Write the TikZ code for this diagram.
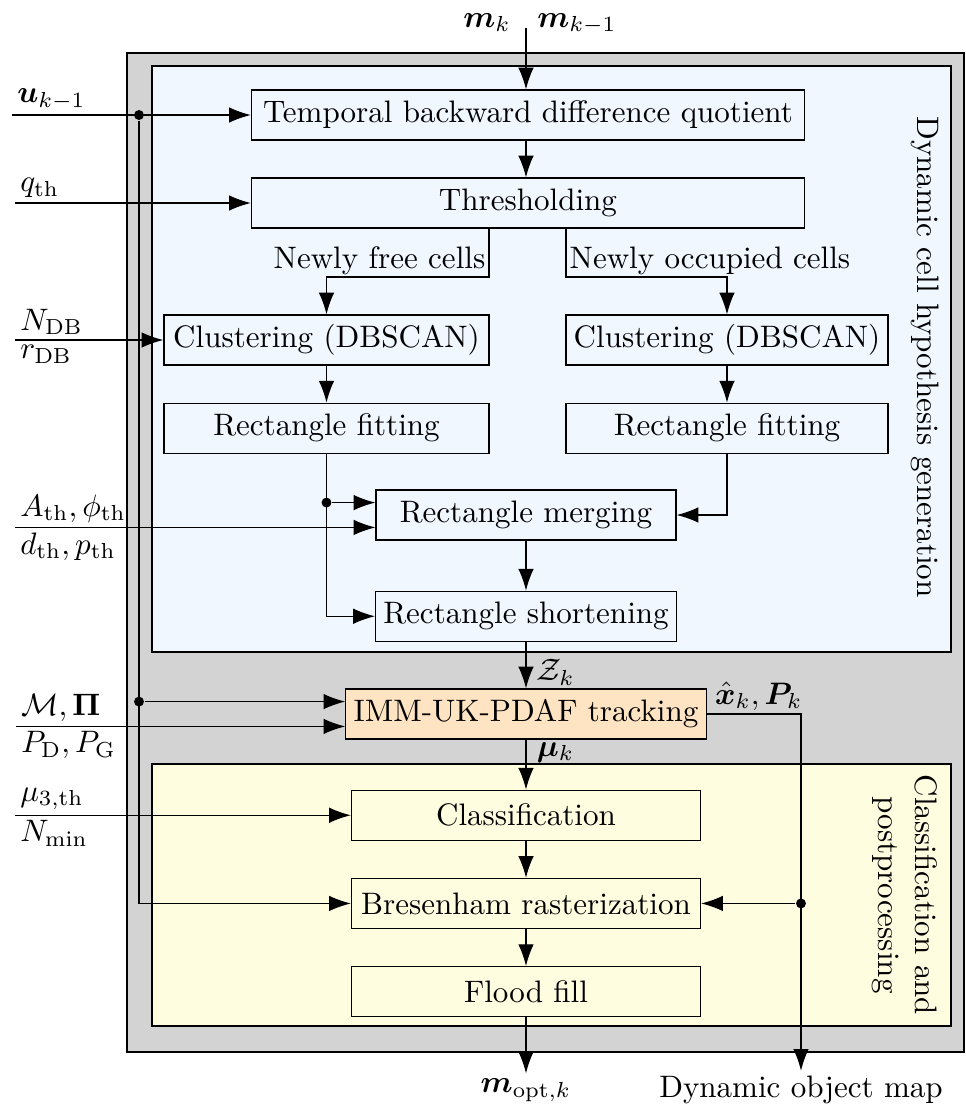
\documentclass[tikz,border=0pt]{standalone}
\usepackage{amsmath,bm}
\usetikzlibrary{arrows.meta,positioning}
\definecolor{groupgray}{RGB}{211,211,211}
\definecolor{hypblue}{RGB}{240,247,255}
\definecolor{clsyellow}{RGB}{255,253,224}
\definecolor{trackorange}{RGB}{255,228,196}

\begin{document}
\begin{tikzpicture}[x=0.322pt,y=-0.322pt,>={Latex[length=7pt,width=5pt]},
  block/.style={draw,rectangle,minimum height=16.1pt,inner xsep=2.5pt,inner ysep=2pt},
  hblock/.style={block,fill=hypblue},
  cblock/.style={block,fill=clsyellow},
  dot/.style={circle,fill,inner sep=0pt,minimum size=3.2pt},
  inlabel/.style={inner sep=1.5pt}]
\useasboundingbox (0,0) rectangle (965,1105);
\draw[fill=groupgray] (127,53) rectangle (964,1052);
\draw[fill=hypblue] (152,66) rectangle (951,652);
\draw[fill=clsyellow] (152,764) rectangle (951,1026);

\node[hblock,minimum width=178.1pt] (tbdq) at (528,115) {Temporal backward difference quotient};
\node[hblock,minimum width=178.1pt] (thr) at (528,203) {Thresholding};
\node[hblock,minimum width=104.7pt] (clu1) at (326.5,340) {Clustering (DBSCAN)};
\node[hblock,minimum width=104.7pt,below=11.9pt of clu1] (fit1) {Rectangle fitting};
\node[hblock,minimum width=103.7pt] (clu2) at (727,340) {Clustering (DBSCAN)};
\node[hblock,minimum width=103.7pt,below=11.9pt of clu2] (fit2) {Rectangle fitting};
\node[hblock,minimum width=96.6pt] (merge) at (526,515) {Rectangle merging};
\node[hblock,minimum width=96.6pt,below=16.1pt of merge] (short) {Rectangle shortening};
\node[block,fill=trackorange,minimum width=112.4pt] (imm) at (526,714) {IMM-UK-PDAF tracking};
\node[cblock,minimum width=112.4pt,below=16.1pt of imm] (cls) {Classification};
\node[cblock,minimum width=112.4pt,below=11.9pt of cls] (bres) {Bresenham rasterization};
\node[cblock,minimum width=112.4pt,below=11.9pt of bres] (flood) {Flood fill};

\node[rotate=-90] (hyplab) at (925,357) {Dynamic cell hypothesis generation};
\node[rotate=-90,align=center] (clslab) at (905,895) {Classification and\\postprocessing};

\coordinate (tin) at (526,28);
\node[anchor=base] (mk) at (487,27) {$\bm{m}_k$};
\node[anchor=base] (mkm) at (577,27) {$\bm{m}_{k-1}$};
\draw[->] (tin) -- (tin |- tbdq.north);
\draw[->] (tbdq.south -| tin) -- (thr.north -| tin);

\coordinate (fsplit) at (489,277);
\coordinate (osplit) at (566,277);
\draw[->] (thr.south -| fsplit) -- node[left,pos=0.67,inner sep=1pt] (freelab) {Newly free cells} (fsplit) -| (clu1);
\draw[->] (thr.south -| osplit) -- node[right,pos=0.67,inner sep=1pt] (occlab) {Newly occupied cells} (osplit) -| (clu2);
\draw[->] (clu1) -- (fit1);
\draw[->] (clu2) -- (fit2);

\path ([yshift=4pt]merge.west) coordinate (min1) ([yshift=-4pt]merge.west) coordinate (min2);
\draw[->] (fit1) |- (short);
\node[dot] (fdot) at (fit1 |- min1) {};
\draw[->] (fdot) -- (min1);
\draw[->] (fit2) |- (merge);
\draw[->] (merge) -- (short);
\draw[->] (short) -- node[right,pos=0.65] (zlab) {$\mathcal{Z}_k$} (imm);

\coordinate (uin) at (12,115);
\node[dot] (udot) at (139,115) {};
\draw[->] (uin) -- (tbdq);
\node[inlabel,anchor=south west] (ulab) at (uin) {$\bm{u}_{k-1}$};
\draw[->] (udot) |- (bres);
\path ([yshift=4pt]imm.west) coordinate (iin1) ([yshift=-4pt]imm.west) coordinate (iin2);
\node[dot] (idot) at (udot |- iin1) {};
\draw[->] (idot) -- (iin1);

\coordinate (qin) at (15,203);
\draw[->] (qin) -- (thr);
\node[inlabel,anchor=south west] (qlab) at (qin) {$q_{\mathrm{th}}$};

\coordinate (nin) at (15,340);
\draw[->] (nin) -- (clu1);
\node[inlabel,anchor=south west] (nlab) at (nin) {$N_{\mathrm{DB}}$};
\node[inlabel,anchor=north west] (rlab) at (nin) {$r_{\mathrm{DB}}$};

\coordinate (ain) at (15,0 |- min2);
\draw[->] (ain) -- (min2);
\node[inlabel,anchor=south west] (alab) at (ain) {$A_{\mathrm{th}},\phi_{\mathrm{th}}$};
\node[inlabel,anchor=north west] (dlab) at (ain) {$d_{\mathrm{th}},p_{\mathrm{th}}$};

\coordinate (pin) at (16,0 |- iin2);
\draw[->] (pin) -- (iin2);
\node[inlabel,anchor=south west] (mlab) at (pin) {$\mathcal{M},\mathbf{\Pi}$};
\node[inlabel,anchor=north west] (plab) at (pin) {$P_{\mathrm{D}},P_{\mathrm{G}}$};

\coordinate (muin) at (15,0 |- cls);
\draw[->] (muin) -- (cls);
\node[inlabel,anchor=south west] (mulab3) at (muin) {$\mu_{3,\mathrm{th}}$};
\node[inlabel,anchor=north west] (nminlab) at (muin) {$N_{\min}$};

\draw[->] (imm) -- node[right,pos=0.25] (mulab) {$\bm{\mu}_k$} (cls);
\draw[->] (cls) -- (bres);
\draw[->] (bres) -- (flood);

\node[inlabel] (mopt) at (flood |- 0,1090) {$\bm{m}_{\mathrm{opt},k}$};
\draw[->] (flood) -- (mopt);
\node[inlabel] (dom) at (801,1090) {Dynamic object map};
\draw[->] (imm) -| (dom);
\node[anchor=south west,inner sep=1pt] (xlab) at ([xshift=1.5pt]imm.east) {$\hat{\bm{x}}_k,\bm{P}_k$};
\node[dot] (bdot) at (dom |- bres) {};
\draw[->] (bdot) -- (bres);
\end{tikzpicture}
\end{document}
